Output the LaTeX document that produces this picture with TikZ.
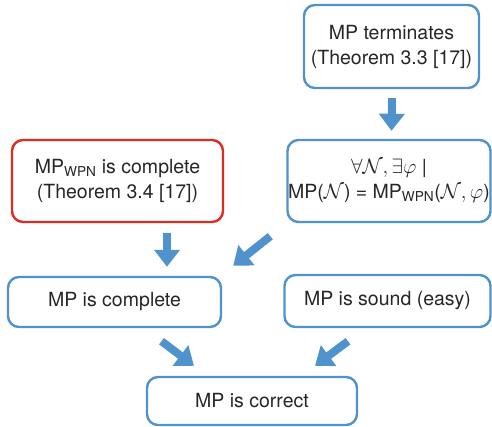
\documentclass[tikz,border=0pt]{standalone}
\usepackage{fontspec}
\setmainfont{TeX Gyre Heros}
\usepackage{tikz}
\usetikzlibrary{arrows.meta}
\definecolor{stepblue}{RGB}{80,146,204}
\definecolor{stepred}{RGB}{222,44,32}
\definecolor{steptext}{RGB}{38,38,38}
\newcommand{\WPN}{\textsubscript{WPN}}

\begin{document}
\begin{tikzpicture}[x=1pt,y=-1pt,
  proofbox/.style={draw=stepblue,line width=2.4pt,rounded corners=11pt,align=center,
    text=steptext,font=\fontsize{19.5}{25}\selectfont,inner sep=0pt},
  citedbox/.style={proofbox,draw=stepred},
  implies/.style={draw=stepblue,line width=8pt,-{Triangle[length=17pt,width=25pt]}}]

\useasboundingbox (0,0) rectangle (492,427);

\node[proofbox,minimum width=175pt,minimum height=83pt] (term) at (391.5,46.5)
  {MP terminates\\(Theorem 3.3 [17])};
\node[citedbox,minimum width=211pt,minimum height=82pt] (wpn) at (117.5,181)
  {MP\WPN{} is complete\\(Theorem 3.4 [17])};
\node[proofbox,minimum width=203pt,minimum height=82pt] (equiv) at (389,181)
  {$\forall\mathcal{N}, \exists\varphi$ |\\MP($\mathcal{N}$) = MP\WPN($\mathcal{N}, \varphi$)};

\node[proofbox,minimum width=213pt,minimum height=50pt] (complete) at (114.5,302) {MP is complete};
\node[proofbox,minimum width=206pt,minimum height=52pt] (sound) at (387.5,301) {MP is sound (easy)};
\node[proofbox,minimum width=210pt,minimum height=48pt] (correct) at (252,401) {MP is correct};

\draw[implies] ([shift={(0.5,9)}]term.south) -- ([shift={(2.5,-8)}]equiv.north);
\draw[implies] ([shift={(49.5,10)}]wpn.south) -- ([shift={(52.5,-9)}]complete.north);
\draw[implies] ([shift={(-16,13)}]equiv.south west) -- ([shift={(11,-10)}]complete.north east);
\draw[implies] ([shift={(47,13)}]complete.south) -- ([shift={(-58,-10)}]correct.north);
\draw[implies] ([shift={(-39.5,13)}]sound.south) -- ([shift={(63,-10)}]correct.north);

\end{tikzpicture}
\end{document}
